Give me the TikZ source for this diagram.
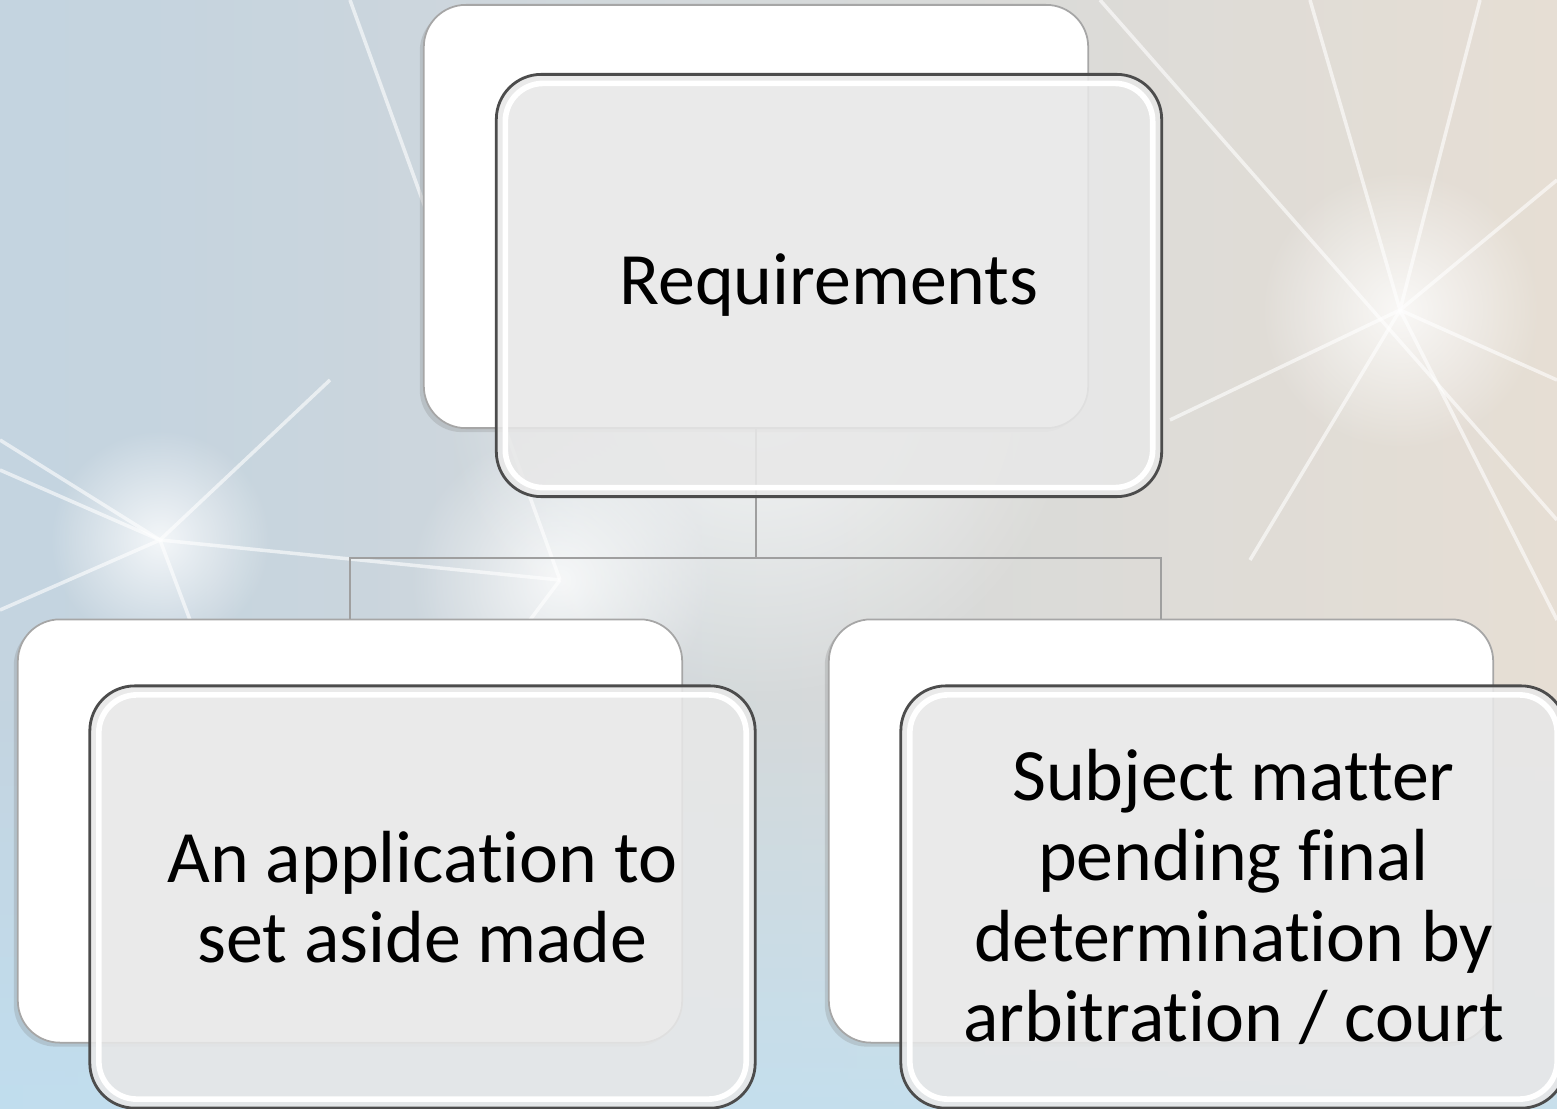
\documentclass[tikz,border=0pt]{standalone}
\usepackage{fontspec}
\setmainfont{Carlito}[Ligatures=NoCommon]
\usetikzlibrary{fadings,shadows}
\definecolor{bgleft}{RGB}{196,212,224}
\definecolor{bgmid}{RGB}{240,240,240}
\definecolor{bgright}{RGB}{230,222,212}
\definecolor{bgblue}{RGB}{192,224,242}
\definecolor{boxgray}{RGB}{232,232,232}
\tikzfading[name=softglow,inner color=transparent!0,outer color=transparent!100]
\begin{document}
\begin{tikzpicture}[x=0.01cm,y=-0.01cm,
  backbox/.style={draw=gray!70,line width=0.5pt,fill=white,rounded corners=0.42cm,
    minimum width=6.64cm,minimum height=4.23cm,
    drop shadow={shadow xshift=-0.04cm,shadow yshift=-0.04cm,opacity=0.25}},
  frontbox/.style={draw=black!70,line width=0.8pt,fill=boxgray,fill opacity=0.88,text opacity=1,
    rounded corners=0.45cm,minimum width=6.65cm,minimum height=4.22cm,
    align=center,font=\fontsize{21}{22.8}\selectfont,
    path picture={\draw[white,line width=1.6pt,rounded corners=0.38cm]
      ([shift={(0.09cm,-0.09cm)}]path picture bounding box.north west) rectangle
      ([shift={(-0.09cm,0.09cm)}]path picture bounding box.south east);}},
  link/.style={draw=gray!75,line width=0.7pt},
  ray/.style={draw=white,line width=1pt,opacity=0.6},
  glow/.style={fill=white,path fading=softglow,opacity=0.8}]
\useasboundingbox (0,0) rectangle (1557,1109);
\clip (0,0) rectangle (1557,1109);
% background
\shade[left color=bgleft,middle color=bgmid,right color=bgright] (0,0) rectangle (1557,1109);
\fill[bgblue,path fading=north,opacity=0.8] (0,700) rectangle (1557,1109);
\fill[bgleft,path fading=east,opacity=0.5] (0,0) rectangle (500,700);
\fill[glow] (160,540) circle (110);
\fill[glow] (560,580) circle (150);
\fill[glow] (1400,310) circle (140);
\fill[glow] (760,380) circle (320);
% light rays
\draw[ray] (0,440) -- (160,540) -- (0,610);
\draw[ray] (160,540) -- (560,580);
\draw[ray] (160,540) -- (330,380);
\draw[ray] (160,540) -- (220,700);
\draw[ray] (0,470) -- (160,540);
\draw[ray] (560,580) -- (470,700);
\draw[ray] (350,0) -- (560,580);
\draw[ray] (1310,0) -- (1400,310) -- (1480,0);
\draw[ray] (1400,310) -- (1557,620);
\draw[ray] (1400,310) -- (1557,180);
\draw[ray] (1400,310) -- (1170,420);
\draw[ray] (1400,310) -- (1557,380);
\draw[ray] (1100,0) -- (1557,520);
\draw[ray] (1250,560) -- (1400,310);
% back boxes
\node[backbox] (backTop) at (756,216.5) {};
\node[backbox] (backLeft) at (350,831) {};
\node[backbox] (backRight) at (1161,831) {};
% connectors
\coordinate (bus) at (756,558);
\draw[link] (backTop.south) -- (bus) -| (backLeft.north);
\draw[link] (bus) -| (backRight.north);
% front boxes
\node[frontbox] (reqNode) at (829,285.5) {Requirements};
\node[frontbox] (appNode) at (422.5,897) {An application to\\set aside made};
\node[frontbox] (subjNode) at (1233.5,897) {Subject matter\\pending final\\determination by\\arbitration / court};
\end{tikzpicture}
\end{document}
